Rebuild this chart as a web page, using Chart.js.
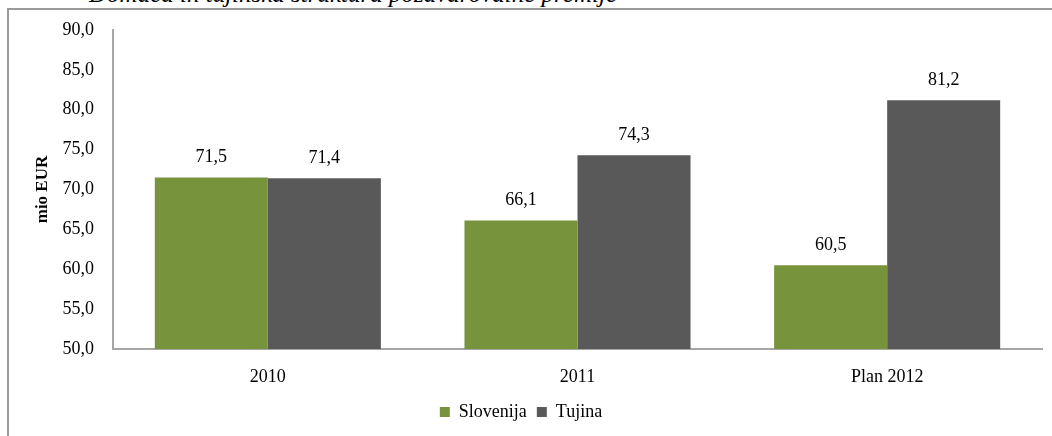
<!DOCTYPE html>
<html lang="sl">
<head>
    <meta charset="UTF-8">
    <title>Domača in tuja struktura pozavarovalne premije</title>
    <script src="https://cdn.jsdelivr.net/npm/chart.js"></script>
    <style>
        body {
            margin: 0;
            width: 1052px;
            height: 436px;
            overflow: hidden;
            background: #fff;
            position: relative;
        }
        .naslov {
            position: absolute;
            right: 435px;
            top: -19px;
            font-family: "Liberation Serif", serif;
            font-style: italic;
            font-size: 25px;
            line-height: 25px;
            white-space: nowrap;
            color: #000;
        }
        .okvir {
            position: absolute;
            left: 7px;
            top: 8px;
            width: 1100px;
            height: 500px;
            border-left: 2px solid #999;
            border-top: 2px solid #999;
        }
        .graf {
            position: absolute;
            left: 0;
            top: 0;
            width: 1052px;
            height: 436px;
        }
    </style>
</head>
<body>

    <div class="naslov">Domača in tujinska struktura pozavarovalne premije</div>
    <div class="okvir"></div>
    <div class="graf"><canvas id="grafPremije" width="1052" height="436"></canvas></div>

    <script>
        // podatki (mio EUR)
        const leta = ['2010', '2011', 'Plan 2012'];
        const slovenija = [71.5, 66.1, 60.5];
        const tujina = [71.4, 74.3, 81.2];

        const pisava = '"Liberation Serif", "Times New Roman", serif';
        const vejica = v => v.toFixed(1).replace('.', ',');

        // oznake vrednosti nad stolpci
        const oznake = {
            id: 'oznake',
            afterDatasetsDraw(chart) {
                const c = chart.ctx;
                c.save();
                c.font = '18px ' + pisava;
                c.fillStyle = '#000';
                c.textAlign = 'center';
                c.textBaseline = 'middle';
                chart.data.datasets.forEach((ds, i) => {
                    chart.getDatasetMeta(i).data.forEach((bar, j) => {
                        c.fillText(vejica(ds.data[j]), bar.x, bar.y - 20);
                    });
                });
                c.restore();
            }
        };

        const ctx = document.getElementById('grafPremije').getContext('2d');
        new Chart(ctx, {
            type: 'bar',
            data: {
                labels: leta,
                datasets: [
                    { label: 'Slovenija', data: slovenija, backgroundColor: '#77933C' },
                    { label: 'Tujina', data: tujina, backgroundColor: '#595959' }
                ]
            },
            options: {
                responsive: false,
                animation: false,
                devicePixelRatio: 1,
                layout: { padding: { top: 30, right: 10, left: 0, bottom: 5 } },
                datasets: {
                    bar: { categoryPercentage: 0.73, barPercentage: 1.0 }
                },
                plugins: {
                    tooltip: { enabled: false },
                    legend: {
                        position: 'bottom',
                        labels: {
                            boxWidth: 10,
                            boxHeight: 10,
                            padding: 10,
                            color: '#000',
                            font: { family: pisava, size: 18 }
                        }
                    }
                },
                scales: {
                    x: {
                        grid: { display: false },
                        border: { display: true, color: '#a6a6a6', width: 2 },
                        ticks: { color: '#000', padding: 9, maxRotation: 0, font: { family: pisava, size: 18 } },
                        afterFit(s) { s.height = 44; }
                    },
                    y: {
                        min: 50,
                        max: 90,
                        grid: { display: false },
                        border: { display: true, color: '#a6a6a6', width: 2 },
                        ticks: {
                            stepSize: 5,
                            color: '#000',
                            padding: 11,
                            font: { family: pisava, size: 18 },
                            callback: v => vejica(v)
                        },
                        title: {
                            display: true,
                            text: 'mio EUR',
                            color: '#000',
                            padding: { top: 32, bottom: 0 },
                            font: { family: pisava, size: 17, weight: 'bold' }
                        },
                        afterFit(s) { s.width = 113; }
                    }
                }
            },
            plugins: [oznake]
        });
    </script>
</body>
</html>
